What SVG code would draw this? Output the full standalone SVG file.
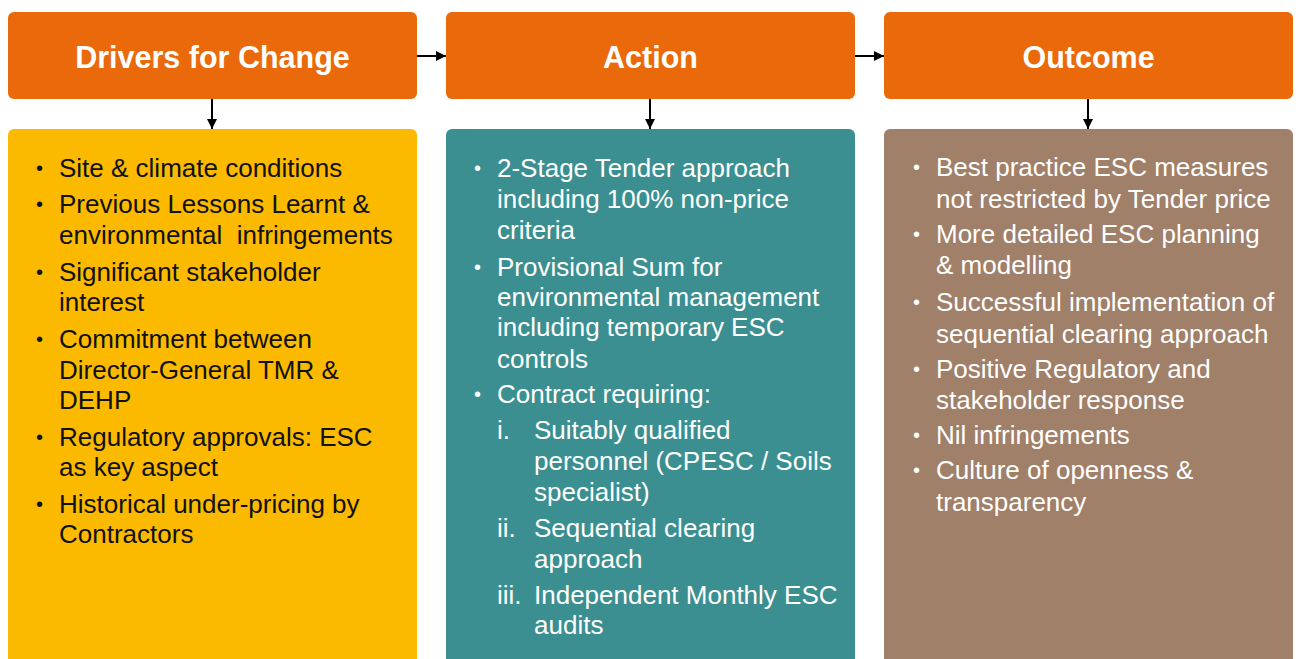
<svg xmlns="http://www.w3.org/2000/svg" width="1301" height="659" viewBox="0 0 1301 659">
  <style>
    .hdr { fill: #EA690B; }
    .hdr-text { font-family: "Liberation Sans", Arial, sans-serif; font-weight: bold; font-size: 30.5px; fill: #FFFFFF; text-anchor: middle; }
    .body-text { font-family: "Liberation Sans", Arial, sans-serif; font-size: 26px; }
    .dark { fill: #111111; }
    .light { fill: #FFFFFF; }
    .bullet { font-size: 20px; }
    .conn { stroke: #000000; stroke-width: 2; fill: none; }
  </style>
  <defs>
    <marker id="arrow" viewBox="0 0 10 10" refX="10" refY="5" markerWidth="5" markerHeight="5.5" orient="auto" markerUnits="strokeWidth">
      <path d="M0,0 L10,5 L0,10 Z" fill="#000000"/>
    </marker>
  </defs>

  <rect width="1301" height="659" fill="#FFFFFF"/>

  <!-- Column 1: Drivers for Change -->
  <g id="drivers-header">
    <rect class="hdr" x="8" y="12" width="409" height="87" rx="6"/>
    <text class="hdr-text" x="212.5" y="68">Drivers for Change</text>
  </g>
  <g id="drivers-body">
    <rect x="8" y="129" width="409" height="560" rx="6" fill="#FBBA00"/>
    <g class="body-text dark" transform="translate(0,1)">
      <text class="bullet" x="36" y="174">•</text>
      <text x="59" y="176">Site &amp; climate conditions</text>
      <text class="bullet" x="36" y="210">•</text>
      <text x="59" y="212">Previous Lessons Learnt &amp;</text>
      <text x="59" y="243" xml:space="preserve">environmental  infringements</text>
      <text class="bullet" x="36" y="278">•</text>
      <text x="59" y="280">Significant stakeholder</text>
      <text x="59" y="310">interest</text>
      <text class="bullet" x="36" y="345">•</text>
      <text x="59" y="347">Commitment between</text>
      <text x="59" y="378">Director-General TMR &amp;</text>
      <text x="59" y="408">DEHP</text>
      <text class="bullet" x="36" y="443">•</text>
      <text x="59" y="445">Regulatory approvals: ESC</text>
      <text x="59" y="475">as key aspect</text>
      <text class="bullet" x="36" y="510">•</text>
      <text x="59" y="512">Historical under-pricing by</text>
      <text x="59" y="542">Contractors</text>
    </g>
  </g>

  <!-- Column 2: Action -->
  <g id="action-header">
    <rect class="hdr" x="446" y="12" width="409" height="87" rx="6"/>
    <text class="hdr-text" x="650.5" y="68">Action</text>
  </g>
  <g id="action-body">
    <rect x="446" y="129" width="409" height="560" rx="6" fill="#3B8F90"/>
    <g class="body-text light" transform="translate(0,1)">
      <text class="bullet" x="474" y="174">•</text>
      <text x="497" y="176">2-Stage Tender approach</text>
      <text x="497" y="207">including 100% non-price</text>
      <text x="497" y="238">criteria</text>
      <text class="bullet" x="474" y="273">•</text>
      <text x="497" y="275">Provisional Sum for</text>
      <text x="497" y="305">environmental management</text>
      <text x="497" y="335">including temporary ESC</text>
      <text x="497" y="367">controls</text>
      <text class="bullet" x="474" y="400">•</text>
      <text x="497" y="402">Contract requiring:</text>
      <text x="497" y="438">i.</text>
      <text x="534" y="438">Suitably qualified</text>
      <text x="534" y="469">personnel (CPESC / Soils</text>
      <text x="534" y="500">specialist)</text>
      <text x="497" y="536">ii.</text>
      <text x="534" y="536">Sequential clearing</text>
      <text x="534" y="567">approach</text>
      <text x="497" y="603">iii.</text>
      <text x="534" y="603">Independent Monthly ESC</text>
      <text x="534" y="633">audits</text>
    </g>
  </g>

  <!-- Column 3: Outcome -->
  <g id="outcome-header">
    <rect class="hdr" x="884" y="12" width="409" height="87" rx="6"/>
    <text class="hdr-text" x="1088.5" y="68">Outcome</text>
  </g>
  <g id="outcome-body">
    <rect x="884" y="129" width="409" height="560" rx="6" fill="#A08069"/>
    <g class="body-text light" transform="translate(0,1)">
      <text class="bullet" x="913" y="173">•</text>
      <text x="936" y="175">Best practice ESC measures</text>
      <text x="936" y="207">not restricted by Tender price</text>
      <text class="bullet" x="913" y="240">•</text>
      <text x="936" y="242">More detailed ESC planning</text>
      <text x="936" y="273">&amp; modelling</text>
      <text class="bullet" x="913" y="308">•</text>
      <text x="936" y="310">Successful implementation of</text>
      <text x="936" y="342">sequential clearing approach</text>
      <text class="bullet" x="913" y="375">•</text>
      <text x="936" y="377">Positive Regulatory and</text>
      <text x="936" y="408">stakeholder response</text>
      <text class="bullet" x="913" y="441">•</text>
      <text x="936" y="443">Nil infringements</text>
      <text class="bullet" x="913" y="476">•</text>
      <text x="936" y="478">Culture of openness &amp;</text>
      <text x="936" y="510">transparency</text>
    </g>
  </g>

  <!-- Connectors -->
  <g id="connectors">
    <line class="conn" x1="417" y1="56" x2="446" y2="56" marker-end="url(#arrow)"/>
    <line class="conn" x1="855" y1="56" x2="884" y2="56" marker-end="url(#arrow)"/>
    <line class="conn" x1="212" y1="99" x2="212" y2="129" marker-end="url(#arrow)"/>
    <line class="conn" x1="650" y1="99" x2="650" y2="129" marker-end="url(#arrow)"/>
    <line class="conn" x1="1088" y1="99" x2="1088" y2="129" marker-end="url(#arrow)"/>
  </g>
</svg>
